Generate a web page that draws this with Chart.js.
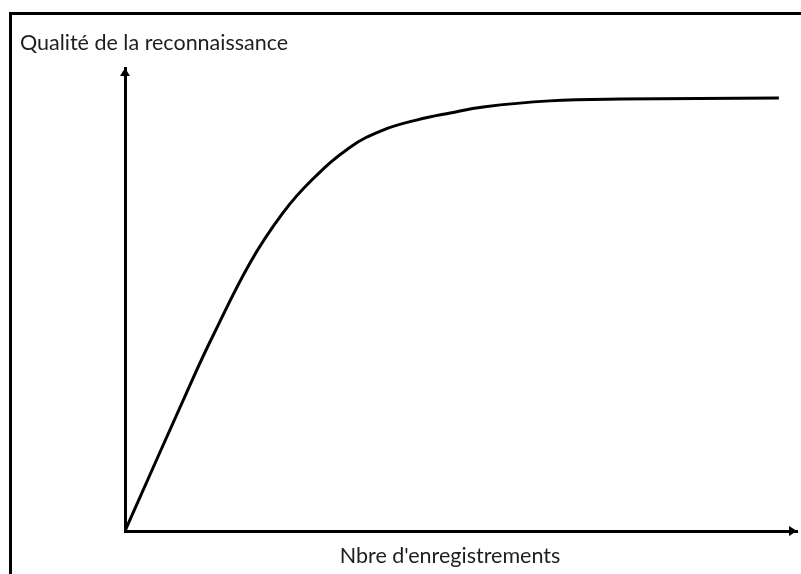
<!DOCTYPE html>
<html>
<head>
<meta charset="utf-8">
<script src="https://cdn.jsdelivr.net/npm/chart.js@4/dist/chart.umd.min.js"></script>
<style>
html,body{margin:0;padding:0;background:#fff;}
</style>
</head>
<body>
<canvas id="c" width="801" height="574"></canvas>
<script>
const yTitle = "Qualité de la reconnaissance";
const xTitle = "Nbre d'enregistrements";
const xValues = [0, 10.0, 13.0, 18.6, 23.5, 27.8, 33.5, 38.4, 43.5, 48.4, 53.3, 63.2, 73.7, 97.3];
const yValues = [0, 32.6, 41.9, 57.9, 68.7, 75.8, 82.9, 86.6, 88.8, 90.3, 91.6, 92.9, 93.3, 93.5];

const points = xValues.map((x, i) => ({x: x, y: yValues[i]}));

const deco = {
  id: 'deco',
  afterDraw(chart) {
    const ctx = chart.ctx;
    const xs = chart.scales.x, ys = chart.scales.y;
    const x0 = xs.getPixelForValue(0), xMax = xs.getPixelForValue(100);
    const y0 = ys.getPixelForValue(0), yMax = ys.getPixelForValue(100);
    ctx.save();
    ctx.strokeStyle = '#000';
    ctx.lineWidth = 3;
    ctx.strokeRect(10.5, 13.5, 800, 600);
    ctx.fillStyle = '#000';
    ctx.beginPath();
    ctx.moveTo(xMax, y0);
    ctx.lineTo(xMax - 8, y0 - 5);
    ctx.lineTo(xMax - 8, y0 + 5);
    ctx.closePath();
    ctx.fill();
    ctx.beginPath();
    ctx.moveTo(x0, yMax);
    ctx.lineTo(x0 - 5, yMax + 8);
    ctx.lineTo(x0 + 5, yMax + 8);
    ctx.closePath();
    ctx.fill();
    ctx.fillStyle = '#1e1e1e';
    ctx.font = '21.5px Lato';
    ctx.textBaseline = 'alphabetic';
    ctx.textAlign = 'left';
    ctx.fillText(yTitle, 20, 50);
    ctx.textAlign = 'center';
    ctx.fillText(xTitle, 450, 563);
    ctx.restore();
  }
};

new Chart(document.getElementById('c'), {
  type: 'line',
  data: {
    datasets: [{
      data: points,
      borderColor: '#000',
      borderWidth: 3,
      pointRadius: 0,
      tension: 0.4,
      fill: false
    }]
  },
  options: {
    responsive: false,
    animation: false,
    layout: {padding: {left: 117, right: 4, top: 68, bottom: 35}},
    plugins: {legend: {display: false}, tooltip: {enabled: false}, title: {display: false}},
    scales: {
      x: {type: 'linear', min: 0, max: 100, grid: {display: false}, ticks: {display: false},
          border: {display: true, color: '#000', width: 3}},
      y: {type: 'linear', min: 0, max: 100, grid: {display: false}, ticks: {display: false},
          border: {display: true, color: '#000', width: 3}}
    }
  },
  plugins: [deco]
});
</script>
</body>
</html>
